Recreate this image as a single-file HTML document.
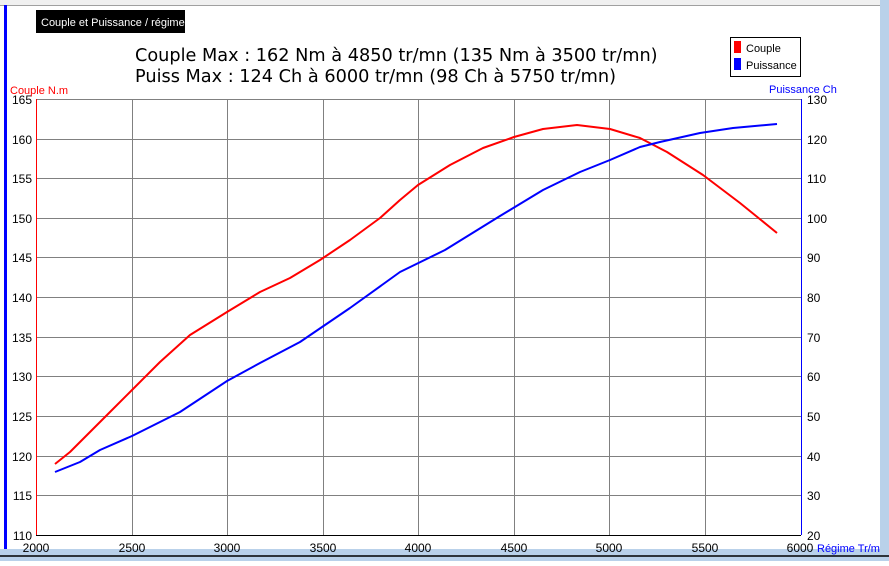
<!DOCTYPE html>
<html><head><meta charset="utf-8"><style>
body{margin:0;width:889px;height:561px;overflow:hidden;background:#fff;font-family:"Liberation Sans",sans-serif}
</style></head><body>
<svg width="889" height="561" xmlns="http://www.w3.org/2000/svg" font-family="Liberation Sans, sans-serif">
<rect x="0" y="0" width="889" height="5" fill="#f0f0f0"/>
<line x1="0" y1="5.5" x2="880" y2="5.5" stroke="#a0a0a0"/>
<rect x="4" y="5" width="3" height="545" fill="#0000ff"/>
<rect x="880" y="0" width="9" height="561" fill="#b9d1ea"/>
<rect x="0" y="549" width="889" height="12" fill="#b9d1ea"/>
<line x1="0" y1="556" x2="889" y2="556" stroke="#000" stroke-width="1.5"/>
<rect x="36" y="10" width="149" height="23" fill="#000"/>
<text x="41" y="26" font-size="11" fill="#fff">Couple et Puissance / régime</text>
<text x="135" y="61" font-size="17.7" font-family="DejaVu Sans, sans-serif">Couple Max : 162 Nm à 4850 tr/mn (135 Nm à 3500 tr/mn)</text>
<text x="135" y="82" font-size="17.7" font-family="DejaVu Sans, sans-serif">Puiss Max : 124 Ch à 6000 tr/mn (98 Ch à 5750 tr/mn)</text>
<rect x="730.5" y="37.5" width="70" height="39" fill="#fff" stroke="#000"/>
<rect x="734" y="41" width="7" height="12" fill="#ff0000"/>
<rect x="734" y="58" width="7" height="12" fill="#0000ff"/>
<text x="746" y="52" font-size="11">Couple</text>
<text x="746" y="69" font-size="11">Puissance</text>
<text x="10" y="94" font-size="11" fill="#ff0000">Couple N.m</text>
<text x="769" y="93" font-size="11" fill="#0000ff">Puissance Ch</text>
<g stroke="#808080" stroke-width="1">
<line x1="36" y1="99.5" x2="801" y2="99.5"/><line x1="36" y1="139.5" x2="801" y2="139.5"/><line x1="36" y1="178.5" x2="801" y2="178.5"/><line x1="36" y1="218.5" x2="801" y2="218.5"/><line x1="36" y1="257.5" x2="801" y2="257.5"/><line x1="36" y1="297.5" x2="801" y2="297.5"/><line x1="36" y1="337.5" x2="801" y2="337.5"/><line x1="36" y1="376.5" x2="801" y2="376.5"/><line x1="36" y1="416.5" x2="801" y2="416.5"/><line x1="36" y1="456.5" x2="801" y2="456.5"/><line x1="36" y1="495.5" x2="801" y2="495.5"/>
<line x1="132.5" y1="99" x2="132.5" y2="535"/><line x1="227.5" y1="99" x2="227.5" y2="535"/><line x1="323.5" y1="99" x2="323.5" y2="535"/><line x1="418.5" y1="99" x2="418.5" y2="535"/><line x1="514.5" y1="99" x2="514.5" y2="535"/><line x1="609.5" y1="99" x2="609.5" y2="535"/><line x1="705.5" y1="99" x2="705.5" y2="535"/>
</g>
<line x1="36" y1="535.5" x2="801" y2="535.5" stroke="#000"/>
<line x1="36.5" y1="99" x2="36.5" y2="535" stroke="#ff0000"/>
<line x1="801.5" y1="99" x2="801.5" y2="535" stroke="#0000ff"/>
<g font-size="12" text-anchor="end">
<text x="32" y="104">165</text><text x="32" y="144">160</text><text x="32" y="183">155</text><text x="32" y="223">150</text><text x="32" y="262">145</text><text x="32" y="302">140</text><text x="32" y="342">135</text><text x="32" y="381">130</text><text x="32" y="421">125</text><text x="32" y="461">120</text><text x="32" y="500">115</text><text x="32" y="540">110</text>
</g>
<g font-size="12">
<text x="807" y="104">130</text><text x="807" y="144">120</text><text x="807" y="183">110</text><text x="807" y="223">100</text><text x="807" y="262">90</text><text x="807" y="302">80</text><text x="807" y="342">70</text><text x="807" y="381">60</text><text x="807" y="421">50</text><text x="807" y="461">40</text><text x="807" y="500">30</text><text x="807" y="540">20</text>
</g>
<g font-size="12" text-anchor="middle">
<text x="36" y="552">2000</text><text x="132" y="552">2500</text><text x="227" y="552">3000</text><text x="323" y="552">3500</text><text x="418" y="552">4000</text><text x="514" y="552">4500</text><text x="609" y="552">5000</text><text x="705" y="552">5500</text><text x="800" y="552">6000</text>
</g>
<text x="817" y="552" font-size="11" fill="#0000ff">Régime Tr/m</text>
<polyline fill="none" stroke="#ff0000" stroke-width="2" stroke-linejoin="round" points="55,464 70,452 90,432 110,412 132,390 160,362 190,335 227,312 260,292 290,278 320,260 350,240 380,218 400,200 418,185 450,165 483,148 514,137 543,129 577,125 610,129 640,138 667,152 703,175 740,203 777,233"/>
<polyline fill="none" stroke="#0000ff" stroke-width="2" stroke-linejoin="round" points="55,472 80,462 100,450 132,436 180,412 227,381 260,363 300,342 350,308 400,272 445,250 500,216 543,190 580,172 610,160 640,147 660,142 700,133 733,128 777,124"/>
</svg>
</body></html>
